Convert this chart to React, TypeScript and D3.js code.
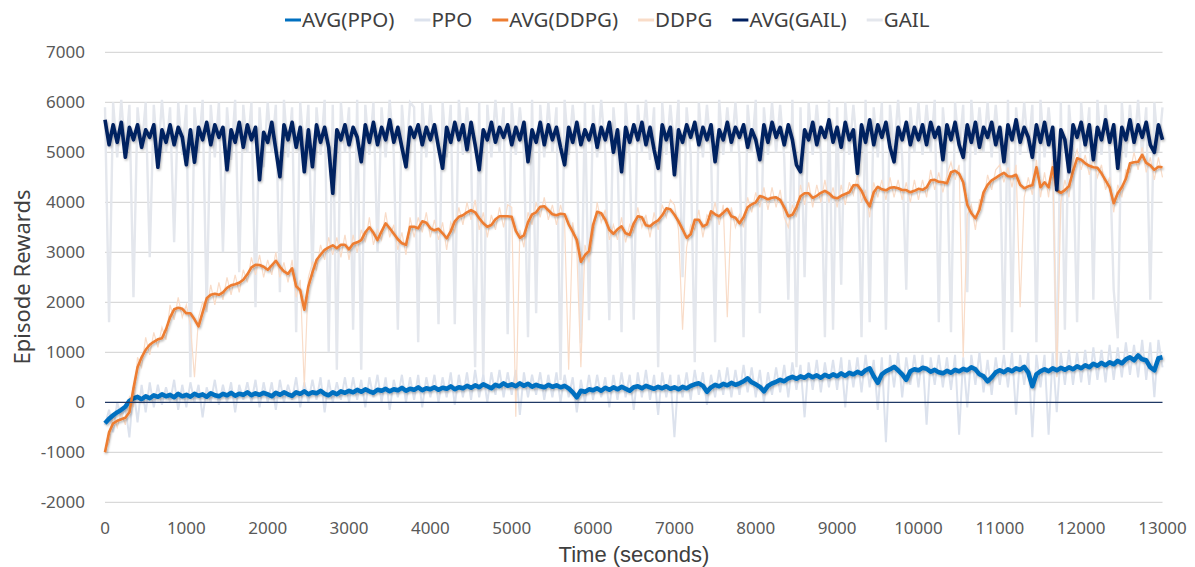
import React, { useEffect, useRef } from "react";
import * as d3 from "d3";

// samples every 50 seconds, 0 .. 13000 (one row = 1000 s)
const STEP = 50;

const avgPPO = [
  -420, -330, -260, -200, -150, -90, 30, 80, 110, 60, 120, 80, 140, 110, 160, 120, 150, 100, 170, 120,
  150, 110, 170, 130, 160, 110, 180, 140, 120, 170, 140, 190, 130, 170, 150, 200, 140, 180, 150, 190,
  160, 120, 190, 150, 200, 160, 130, 200, 170, 220, 160, 200, 180, 230, 170, 140, 200, 160, 220, 190,
  230, 200, 250, 210, 260, 220, 190, 250, 230, 270, 220, 260, 240, 290, 230, 270, 250, 300, 240, 280,
  260, 300, 250, 290, 270, 320, 260, 300, 280, 330, 290, 340, 300, 360, 320, 280, 350, 320, 380, 330,
  360, 320, 380, 330, 370, 310, 350, 320, 300, 350, 310, 340, 300, 330, 280, 200, 100, 230, 210, 260,
  240, 280, 230, 290, 250, 300, 260, 310, 270, 230, 300, 320, 280, 330, 300, 270, 310, 280, 320, 270,
  300, 260, 310, 280, 330, 360, 380, 330, 210, 300, 350, 320, 370, 340, 390, 350, 380, 420, 480, 400,
  360, 310, 220, 330, 380, 410, 450, 420, 480, 510, 470, 520, 490, 550, 500, 540, 490, 550, 510, 560,
  520, 580, 530, 590, 560, 610, 570, 640, 680, 520, 390, 560, 620, 660, 710, 640, 560, 450, 620, 660,
  640, 690, 670, 610, 650, 600, 580, 630, 590, 650, 620, 670, 640, 700, 660, 560, 520, 420, 500, 600,
  640, 600, 660, 620, 680, 650, 710, 600, 320, 560, 620, 660, 620, 680, 640, 690, 650, 700, 660, 720,
  680, 740, 700, 770, 730, 790, 740, 800, 760, 830, 780, 860, 900, 840, 940, 860, 840, 700, 640, 880,
  900,
];

const rawPPO = [
  -450, -150, -600, 0, -300, -100, -700, 300, -400, 350, -200, 400, -100, 350, -50, 300, 0, 450, -150, 350,
  -100, 400, 0, 350, -300, 300, 0, 450, -50, 350, 0, 400, -200, 350, 50, 400, 0, 450, -100, 400,
  0, 400, -150, 450, 0, 350, 50, 500, -100, 400, 0, 450, 50, 500, -200, 450, 0, 400, 50, 500,
  0, 500, 50, 450, -100, 500, 100, 550, 0, 500, -150, 450, 100, 550, 0, 500, 50, 550, -100, 500,
  100, 550, 0, 500, 100, 600, -50, 550, 100, 600, 50, 650, 100, 550, 0, 600, 150, 650, 100, 600,
  150, 650, -250, 600, 100, 550, 150, 600, 50, 550, 100, 600, 0, 550, 100, 500, -200, 450, 0, 550,
  50, 550, 100, 500, -100, 550, 50, 600, 100, 550, -150, 600, 100, 650, 50, 550, -250, 600, 100, 550,
  -700, 550, 100, 600, 50, 650, 150, 600, -50, 550, 100, 650, 150, 700, 100, 650, 150, 750, 200, 700,
  100, 650, 0, 600, 150, 700, 200, 750, 100, 800, 250, 750, -300, 800, 250, 850, 200, 800, 300, 850,
  250, 900, -100, 850, 300, 900, 200, 950, 300, 850, -150, 900, -800, 950, 300, 1000, 100, 900, 350, 950,
  300, 950, -450, 900, 350, 950, 300, 900, 250, 950, -650, 900, -100, 950, 350, 1000, 200, 850, 150, 900,
  350, 950, 300, 1000, -250, 950, 350, 1000, -700, 950, 300, 950, -650, 1000, -200, 1000, 350, 1050, 350, 1000,
  400, 1050, 350, 1100, 450, 1050, 400, 1150, 450, 1100, 500, 1200, 550, 1150, 500, 1250, 450, 1200, 100, 1250,
  700,
];

const avgDDPG = [
  -1000, -600, -420, -370, -340, -310, -200, 280, 700, 900, 1050, 1150, 1210, 1260, 1280, 1460, 1700, 1860, 1890, 1870,
  1780, 1780, 1660, 1520, 1800, 2080, 2150, 2170, 2150, 2200, 2290, 2340, 2360, 2390, 2450, 2560, 2700, 2750, 2745, 2710,
  2650, 2740, 2830, 2710, 2620, 2570, 2680, 2320, 2240, 1850, 2320, 2600, 2845, 2950, 3050, 3100, 3140, 3080, 3150, 3150,
  3060, 3170, 3200, 3245, 3400, 3500, 3390, 3245, 3420, 3580, 3480, 3370, 3260, 3180, 3150, 3510, 3510, 3480, 3620, 3590,
  3480, 3440, 3470, 3380, 3280, 3420, 3620, 3710, 3740, 3800, 3845, 3800, 3680, 3580, 3510, 3545, 3660, 3720, 3720, 3720,
  3710, 3430, 3290, 3340, 3600, 3760, 3800, 3910, 3920, 3840, 3760, 3740, 3770, 3760, 3560, 3410, 3250, 2810, 2945, 3020,
  3550, 3810, 3780, 3650, 3450, 3370, 3460, 3520, 3380, 3350, 3580, 3720, 3700, 3540, 3520, 3590, 3640, 3740, 3880, 3860,
  3750, 3620, 3460, 3290, 3360, 3650, 3650, 3520, 3560, 3820, 3760, 3720, 3790, 3870, 3720, 3690, 3580, 3700, 3900, 3960,
  4000, 4125, 4100, 4060, 4090, 4100, 4050, 3900, 3720, 3750, 3900, 4120, 4180, 4180, 4090, 4130, 4190, 4230, 4180, 4100,
  4080, 4130, 4165, 4200, 4340, 4345, 4230, 4050, 3920, 4200, 4310, 4260, 4240, 4290, 4300, 4280, 4245, 4245, 4200, 4230,
  4270, 4250, 4300, 4440, 4450, 4410, 4400, 4380, 4600, 4630, 4570, 4400, 3950, 3780, 3680, 3850, 4200, 4350, 4440, 4490,
  4545, 4590, 4520, 4515, 4550, 4350, 4280, 4320, 4340, 4700, 4300, 4400, 4300, 4700, 4245, 4190, 4245, 4320, 4620, 4880,
  4850, 4780, 4730, 4700, 4690, 4580, 4440, 4300, 3980, 4180, 4300, 4470, 4780, 4800, 4810, 4950, 4790, 4740, 4650, 4710,
  4700,
];

const rawDDPG = [
  -950, -800, -250, -500, -200, -450, 100, -100, 900, 700, 1300, 950, 1400, 1100, 1500, 1250, 1950, 1650, 2100, 1700,
  1950, 1550, 500, 1700, 2000, 1850, 2350, 1950, 2400, 2050, 2500, 2150, 2550, 2200, 2650, 2400, 2900, 2550, 2950, 2500,
  2850, 2550, 3000, 2500, 2800, 2400, 2850, 2100, 2450, 300, 2500, 2800, 2650, 3150, 2850, 3300, 2950, 3300, 2900, 3350,
  2850, 3350, 3000, 3450, 3200, 3700, 3150, 3450, 3250, 3800, 3300, 3550, 3050, 3400, 2950, 3700, 3300, 3700, 3400, 3800,
  3300, 3650, 3250, 3600, 3050, 3600, 3400, 3900, 3550, 4000, 3650, 4050, 3450, 3800, 3300, 3750, 3450, 3900, 3500, 3950,
  3900, -290, 3450, 3100, 3800, 3550, 4000, 3700, 4100, 3650, 3950, 3550, 3950, 3600, 650, 3600, 3050, 700, 3150, 2800,
  3350, 4000, 3600, 3850, 3250, 3550, 3250, 3700, 3200, 3550, 3400, 3900, 3500, 3750, 3300, 3800, 3450, 3950, 3700, 4050,
  3950, 3450, 1450, 3100, 3550, 3450, 3850, 3300, 3750, 3650, 4000, 3550, 3950, 1700, 3900, 3500, 3750, 3500, 4100, 3800,
  4200, 3900, 4300, 3850, 4300, 3900, 4250, 3700, 3500, 3950, 3700, 4350, 3950, 4400, 3900, 4350, 4000, 4450, 4000, 4300,
  3900, 4350, 3950, 4400, 4150, 4550, 4000, 4250, 3700, 4400, 4100, 4450, 4050, 4500, 4100, 4450, 4050, 4400, 4000, 4450,
  4050, 4450, 4100, 4650, 4250, 4600, 4200, 4550, 4800, 4450, 4750, 900, 3750, 3950, 3450, 4050, 4000, 4550, 4250, 4650,
  4750, 4400, 4700, 4300, 4750, 1900, 4100, 4500, 4150, 4850, 4100, 4600, 4100, 4850, 500, 4000, 4450, 4100, 4800, 5050,
  4650, 4950, 4550, 4900, 4500, 4750, 4250, 4500, 3800, 4350, 4100, 4650, 4600, 5000, 4650, 5100, 4600, 4900, 4450, 4900,
  4500,
];

const avgGAIL = [
  5650, 5150, 5550, 5200, 5600, 4900, 5500, 5250, 5550, 5100, 5450, 5300, 5550, 4700, 5450, 5200, 5550, 5150, 5500, 5300,
  4750, 5450, 4800, 5500, 5250, 5600, 5150, 5550, 5300, 5500, 4650, 5450, 5200, 5600, 5100, 5550, 5250, 5500, 4450, 5400,
  5200, 5600, 5050, 4510, 5550, 5250, 5600, 5100, 5500, 4610, 5450, 4710, 5550, 5200, 5500, 5100, 4180, 5450, 5250, 5550,
  5150, 5500, 5300, 4810, 5550, 5200, 5600, 5150, 5500, 5250, 5650, 5200, 5500, 5100, 4710, 5500, 5300, 5550, 5150, 5500,
  5250, 5550, 5100, 4680, 5500, 5200, 5600, 5250, 5550, 5050, 5600, 5150, 4650, 5450, 5250, 5600, 5200, 5500, 5300, 5550,
  5150, 5500, 5250, 5600, 4810, 5450, 5200, 5600, 5150, 5550, 5250, 5500, 5100, 4750, 5500, 5200, 5600, 5150, 5450, 5250,
  5550, 5100, 5500, 5250, 5600, 5000, 5450, 4610, 5500, 5200, 5550, 5250, 5600, 5150, 5500, 5050, 4680, 5550, 5250, 5500,
  4550, 5450, 5200, 5550, 5300, 5600, 5150, 5500, 5250, 5550, 4810, 5450, 5250, 5600, 5200, 5500, 5300, 5550, 5100, 5450,
  5250, 4850, 5550, 5200, 5600, 5300, 5500, 5150, 5550, 5250, 4750, 4610, 5450, 5250, 5600, 5150, 5500, 5300, 5650, 5200,
  5500, 5100, 5600, 5250, 5450, 4580, 5550, 5200, 5650, 5150, 5550, 5300, 5600, 5100, 4810, 5500, 5250, 5600, 5150, 5500,
  5250, 5550, 5150, 5600, 5300, 5500, 4850, 5550, 5250, 5600, 5150, 4900, 5550, 5200, 5600, 5100, 5500, 5300, 5600, 5150,
  5500, 4810, 5550, 5250, 5650, 5200, 5500, 5300, 4900, 5550, 5200, 5600, 5150, 5500, 4250, 5450, 5250, 4610, 5550, 5300,
  5600, 5150, 5550, 4850, 5500, 5250, 5650, 5200, 5550, 4680, 5500, 5250, 5650, 5200, 5550, 5300, 5600, 5150, 5000, 5550,
  5250,
];

const rawGAIL = [
  5900, 1600, 6000, 4900, 6050, 4950, 5950, 2100, 5900, 5050, 6000, 2900, 5950, 4800, 6050, 5000, 5900, 3200, 6000, 4950,
  5950, 500, 5900, 5000, 6050, 1800, 5950, 4900, 6000, 3000, 5900, 4850, 6050, 2600, 5950, 5000, 6000, 1900, 5900, 4700,
  6000, 5000, 5950, 2200, 6050, 4900, 5900, 1400, 6000, 4900, 5950, 2500, 5900, 4950, 6050, 1000, 5950, 650, 6000, 5000,
  5900, 1450, 6050, 650, 5950, 4950, 6000, 3000, 5900, 4900, 6050, 5000, 1450, 5950, 4850, 6000, 5900, 1200, 6000, 4900,
  5950, 5000, 1560, 6000, 4900, 5950, 1560, 6050, 4950, 5900, 5000, 700, 6000, 450, 5950, 4900, 6050, 5000, 5900, 1360,
  6000, 4950, 5900, 5000, 1300, 6050, 1780, 5950, 4900, 6000, 5000, 5900, 445, 6050, 4950, 5950, 5000, 1180, 6000, 1640,
  5950, 4900, 6050, 5000, 1640, 5900, 4950, 1400, 6000, 4900, 1650, 5950, 5000, 6050, 4850, 5900, 700, 6000, 4950, 5950,
  5000, 6050, 2500, 5900, 4950, 800, 6000, 4900, 5950, 5000, 1200, 6050, 4950, 5900, 5000, 6000, 4900, 1300, 5950, 5000,
  6050, 1780, 5900, 4950, 6000, 5000, 5950, 4900, 2050, 6050, 700, 5900, 2500, 6000, 4950, 5950, 5000, 1300, 6050, 1450,
  5900, 2350, 6000, 4950, 5950, 5000, 1300, 6050, 1600, 5900, 4900, 6000, 1450, 5950, 5000, 6050, 4900, 2250, 5900, 5000,
  6000, 4950, 5950, 5000, 6050, 1600, 5900, 4900, 1400, 6000, 5000, 5950, 2200, 6050, 4950, 5900, 5000, 6000, 4900, 5950,
  5000, 1045, 6050, 1400, 5900, 4950, 6000, 5000, 5950, 1200, 6050, 4900, 5900, 5000, 510, 6000, 1450, 5950, 4950, 1600,
  6000, 5000, 5900, 2050, 6050, 4950, 5950, 5000, 2250, 1280, 6000, 4900, 5950, 5000, 6050, 4950, 5900, 2050, 6000, 5000,
  5900,
];

const yTicks = [-2000, -1000, 0, 1000, 2000, 3000, 4000, 5000, 6000, 7000];
const xTicks = [0, 1000, 2000, 3000, 4000, 5000, 6000, 7000, 8000, 9000, 10000, 11000, 12000, 13000];

const legendNames = ["AVG(PPO)", "PPO", "AVG(DDPG)", "DDPG", "AVG(GAIL)", "GAIL"];

const FONT = "'Noto Sans', 'Open Sans', sans-serif";

export default function App() {
  const ref = useRef<SVGSVGElement | null>(null);

  useEffect(() => {
    document.body.style.margin = "0";
    const svg = d3.select(ref.current);
    svg.selectAll("*").remove();

    const x = d3.scaleLinear().domain([0, 13000]).range([105, 1162.5]);
    const y = d3.scaleLinear().domain([-2000, 7000]).range([502.3, 52.3]);

    const defs = svg.append("defs");
    const f = defs.append("filter").attr("id", "shadow")
      .attr("x", "-5%").attr("y", "-20%").attr("width", "110%").attr("height", "140%");
    f.append("feDropShadow").attr("dx", 1).attr("dy", 1.5).attr("stdDeviation", 1.2)
      .attr("flood-color", "#000").attr("flood-opacity", 0.3);

    // gridlines
    svg.append("g").selectAll("line")
      .data(yTicks.filter(d => d !== 0))
      .join("line")
      .attr("x1", x(0)).attr("x2", x(13000))
      .attr("y1", d => y(d)).attr("y2", d => y(d))
      .attr("stroke", "#d9d9d9").attr("stroke-width", 1.3);

    // y labels
    svg.append("g").selectAll("text")
      .data(yTicks)
      .join("text")
      .attr("x", 85).attr("y", d => y(d))
      .attr("dy", "0.35em")
      .attr("text-anchor", "end")
      .attr("font-family", FONT).attr("font-size", 17).attr("fill", "#595959")
      .text(d => d);

    // x labels
    svg.append("g").selectAll("text")
      .data(xTicks)
      .join("text")
      .attr("x", d => x(d)).attr("y", 534)
      .attr("text-anchor", "middle")
      .attr("font-family", FONT).attr("font-size", 17).attr("fill", "#595959")
      .text(d => d);

    const line = d3.line<number>()
      .x((d, i) => x(i * STEP))
      .y(d => y(d));

    const plot = svg.append("g");
    plot.append("path").datum(rawGAIL).attr("d", line)
      .attr("fill", "none").attr("stroke", "#e4e7ed").attr("stroke-width", 2.4);
    plot.append("path").datum(rawPPO).attr("d", line)
      .attr("fill", "none").attr("stroke", "#dce2ed").attr("stroke-width", 2);
    plot.append("path").datum(rawDDPG).attr("d", line)
      .attr("fill", "none").attr("stroke", "#f9dcc8").attr("stroke-width", 1.2);

    // zero axis line
    svg.append("line")
      .attr("x1", x(0)).attr("x2", x(13000))
      .attr("y1", y(0)).attr("y2", y(0))
      .attr("stroke", "#203864").attr("stroke-width", 1.3);

    plot.append("path").datum(avgPPO).attr("d", line)
      .attr("fill", "none").attr("stroke", "#0070c0").attr("stroke-width", 4.5)
      .attr("stroke-linejoin", "round").attr("filter", "url(#shadow)");
    plot.append("path").datum(avgDDPG).attr("d", line)
      .attr("fill", "none").attr("stroke", "#ed7d31").attr("stroke-width", 2.6)
      .attr("stroke-linejoin", "round").attr("filter", "url(#shadow)");
    plot.append("path").datum(avgGAIL).attr("d", line)
      .attr("fill", "none").attr("stroke", "#002060").attr("stroke-width", 3.6)
      .attr("stroke-linejoin", "round").attr("filter", "url(#shadow)");

    // legend
    const legendColors = ["#0070c0", "#dce2ed", "#ed7d31", "#f9dcc8", "#002060", "#e4e7ed"];
    const legend = svg.append("g");
    let lx = 285;
    legendNames.forEach((name, i) => {
      legend.append("line")
        .attr("x1", lx).attr("x2", lx + 16)
        .attr("y1", 20).attr("y2", 20)
        .attr("stroke", legendColors[i]).attr("stroke-width", 3);
      const t = legend.append("text")
        .attr("x", lx + 17).attr("y", 20)
        .attr("dy", "0.35em")
        .attr("font-family", FONT).attr("font-size", 20.5).attr("fill", "#404040")
        .text(name);
      const w = (t.node() as SVGTextElement).getComputedTextLength();
      lx += 17 + w + 20;
    });

    // axis titles
    svg.append("text")
      .attr("transform", "translate(30,277) rotate(-90)")
      .attr("text-anchor", "middle")
      .attr("font-family", FONT).attr("font-size", 22).attr("fill", "#404040")
      .text("Episode Rewards");
    svg.append("text")
      .attr("x", 634).attr("y", 561.5)
      .attr("text-anchor", "middle")
      .attr("font-family", "'Liberation Sans', Arial, sans-serif").attr("font-size", 22).attr("fill", "#404040")
      .text("Time (seconds)");
  }, []);

  return <svg ref={ref} width={1195} height={567} style={{ display: "block", background: "#fff" }} />;
}
